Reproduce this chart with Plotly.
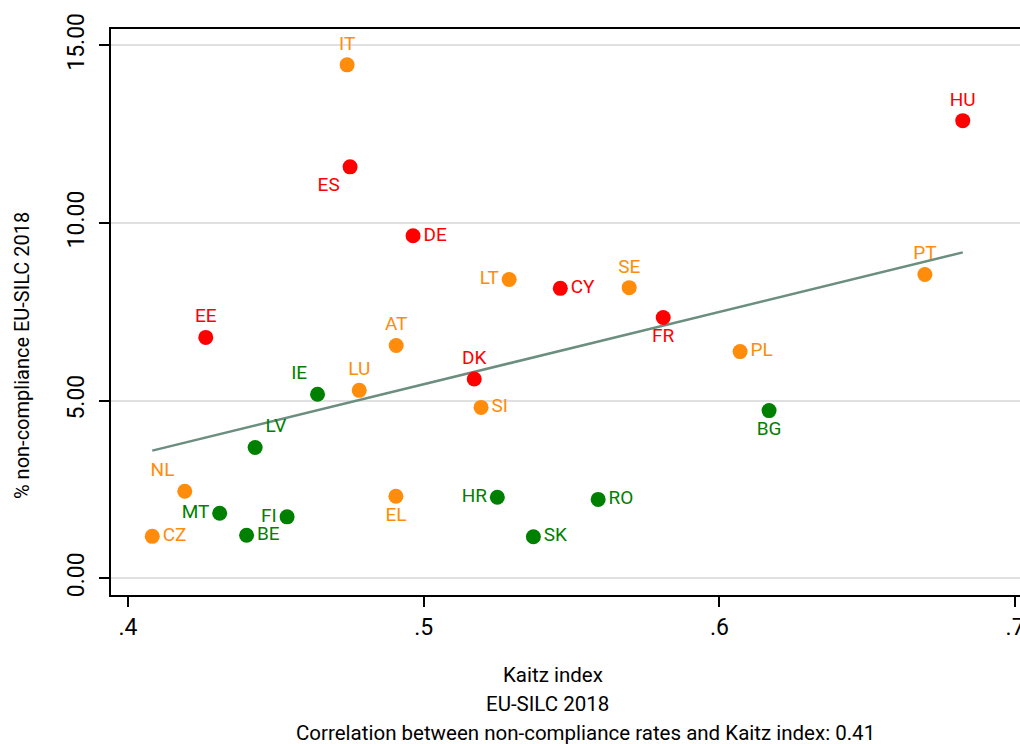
import numpy as np
import plotly.graph_objects as go

countries = ["IT", "ES", "DE", "EE", "HU", "PT", "LT", "CY", "SE", "FR", "AT", "PL", "DK", "LU",
             "IE", "SI", "BG", "LV", "NL", "EL", "HR", "RO", "MT", "FI", "BE", "CZ", "SK"]
kaitz = [0.4741, 0.4751, 0.4964, 0.4263, 0.6823, 0.6695, 0.5289, 0.5462, 0.5695, 0.5810, 0.4907,
         0.6070, 0.5171, 0.4782, 0.4641, 0.5194, 0.6168, 0.4430, 0.4192, 0.4906, 0.5249, 0.5590,
         0.4310, 0.4538, 0.4401, 0.4082, 0.5371]
noncomp = [14.45, 11.58, 9.64, 6.78, 12.88, 8.55, 8.41, 8.16, 8.18, 7.34, 6.55, 6.38, 5.61, 5.29,
           5.18, 4.81, 4.72, 3.68, 2.45, 2.31, 2.28, 2.22, 1.83, 1.73, 1.21, 1.18, 1.17]
group = ["orange", "red", "red", "red", "red", "orange", "orange", "red", "orange", "red", "orange",
         "orange", "red", "orange", "green", "orange", "green", "green", "orange", "orange", "green",
         "green", "green", "green", "green", "orange", "green"]
label_pos = ["top center", "bottom left", "middle right", "top center", "top center", "top center",
             "middle left", "middle right", "top center", "bottom center", "top center", "middle right",
             "top center", "top center", "top left", "middle right", "bottom center", "top right",
             "top left", "bottom center", "middle left", "middle right", "middle left", "middle left",
             "middle right", "middle right", "middle right"]

x_ticks = [0.4, 0.5, 0.6, 0.7]
x_ticktext = [".4", ".5", ".6", ".7"]
y_ticks = [0, 5, 10, 15]

x_title = "Kaitz index"
subtitle = "EU-SILC 2018"
note = "Correlation between non-compliance rates and Kaitz index: 0.41"
y_title = "% non-compliance EU-SILC 2018"

palette = {"red": "#ff0000", "orange": "#ff8c0a", "green": "#008000"}
colors = [palette[g] for g in group]

FONT = "Roboto"

x = np.array(kaitz)
y = np.array(noncomp)
b, a = np.polyfit(x, y, 1)
xf = np.array([x.min(), x.max()])
yf = a + b * xf

fig = go.Figure()
fig.add_trace(go.Scatter(
    x=xf, y=yf, mode="lines",
    line=dict(color="#6b8e7f", width=2.5),
    hoverinfo="skip", showlegend=False,
))
fig.add_trace(go.Scatter(
    x=kaitz, y=noncomp, mode="markers+text",
    text=countries, textposition=label_pos,
    textfont=dict(family=FONT, size=19, color=colors),
    marker=dict(size=15, color=colors, line=dict(width=0)),
    showlegend=False,
))

fig.update_layout(
    width=1020, height=744,
    margin=dict(l=111, r=0, t=29, b=149, autoexpand=False),
    paper_bgcolor="white", plot_bgcolor="white",
    font=dict(family=FONT, color="black"),
    showlegend=False,
)
fig.update_xaxes(
    range=[0.39425, 0.70166],
    tickvals=x_ticks, ticktext=x_ticktext,
    tickfont=dict(family=FONT, size=23, color="black"),
    ticks="outside", ticklen=10, tickwidth=1.5, tickcolor="black",
    showline=True, linecolor="black", linewidth=2, mirror=True,
    showgrid=False, zeroline=False,
    ticklabelstandoff=0,
    ticklabeloverflow="allow",
    automargin=False,
)
fig.update_yaxes(
    range=[-0.470, 15.459],
    tickvals=y_ticks, tickformat=".2f",
    tickangle=-90,
    tickfont=dict(family=FONT, size=23, color="black"),
    ticks="outside", ticklen=10, tickwidth=1.5, tickcolor="black",
    showline=True, linecolor="black", linewidth=2, mirror=False,
    showgrid=True, gridcolor="#e0e0e0", gridwidth=1.5,
    zeroline=False,
    ticklabelstandoff=6,
    automargin=False,
)

fig.add_annotation(text=x_title, xref="paper", yref="paper", x=(553 - 111) / 909, y=-(675 - 595) / 566,
                   xanchor="center", yanchor="middle", showarrow=False,
                   font=dict(family=FONT, size=20.5, color="black"))
fig.add_annotation(text=subtitle, xref="paper", yref="paper", x=(547 - 111) / 909, y=-(704 - 595) / 566,
                   xanchor="center", yanchor="middle", showarrow=False,
                   font=dict(family=FONT, size=20.5, color="black"))
fig.add_annotation(text=note, xref="paper", yref="paper", x=(585 - 111) / 909, y=-(733 - 595) / 566,
                   xanchor="center", yanchor="middle", showarrow=False,
                   font=dict(family=FONT, size=20.5, color="black"))
fig.add_annotation(text=y_title, xref="paper", yref="paper", x=-(111 - 22) / 909, y=(595 - 356) / 566,
                   xanchor="center", yanchor="middle", textangle=-90, showarrow=False,
                   font=dict(family=FONT, size=20, color="black"))

fig.write_html("out.html")
